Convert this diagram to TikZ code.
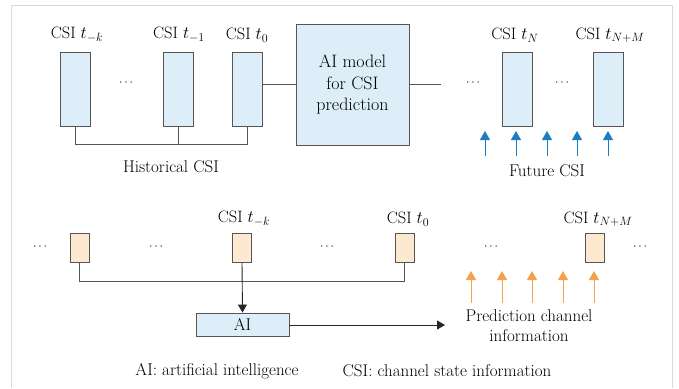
\documentclass[tikz,border=0pt]{standalone}
\usetikzlibrary{arrows.meta}
\definecolor{frame}{HTML}{D9D9D9}
\definecolor{bfill}{HTML}{DDEEF9}
\definecolor{ofill}{HTML}{FDE8D0}
\definecolor{edge}{HTML}{555555}
\definecolor{barrow}{HTML}{1C7EC2}
\definecolor{oarrow}{HTML}{F2891E}
\begin{document}
\begin{tikzpicture}[x=1pt,y=-1pt,
  txt/.style={font=\fontsize{17}{20}\selectfont, inner sep=0pt, text=black},
  lbl/.style={font=\fontsize{16.5}{20}\selectfont, inner sep=0pt, text=black},
  dots/.style={font=\fontsize{13}{16}\selectfont, inner sep=0pt, text=black},
  bbar/.style={draw=edge, fill=bfill, line width=0.9pt, minimum width=30pt, minimum height=74pt, inner sep=0pt},
  obar/.style={draw=edge, fill=ofill, line width=0.9pt, minimum width=19pt, minimum height=29pt, inner sep=0pt},
  conn/.style={draw=edge, line width=0.9pt},
  blk/.style={draw=black!85, line width=0.9pt, -{Triangle[width=9pt,length=8pt]}},
  bup/.style={draw=barrow, line width=1pt, -{Triangle[width=10pt,length=9pt]}},
  oup/.style={draw=oarrow!80, line width=1pt, -{Triangle[width=10pt,length=9pt]}}]
\useasboundingbox (0,0) rectangle (679,388);
\draw[frame, line width=1pt] (11,388) -- (11,5) -- (672,5) -- (672,388);

% ---------- top row ----------
\node[bbar] (r1) at (75,89) {};
\node[bbar] (r2) at (178,89) {};
\node[bbar] (r3) at (247,89) {};
\node[bbar] (r4) at (517,89) {};
\node[bbar] (r5) at (608,89) {};
\node[lbl] (l1) at (77,35) {CSI $t_{-k}$};
\node[lbl] (l2) at (179,35) {CSI $t_{-1}$};
\node[lbl] (l3) at (247,35) {CSI $t_{0}$};
\node[lbl] (l4) at (515,35) {CSI $t_{N}$};
\node[lbl] (l5) at (610,35) {CSI $t_{N+M}$};
\node[dots] (d1) at (126,83) {$\cdots$};
\node[dots] (d2) at (473,83) {$\cdots$};
\node[dots] (d3) at (562,83) {$\cdots$};
\node[draw=edge, fill=bfill, line width=0.9pt, minimum width=113pt, minimum height=121pt, inner sep=0pt,
      txt, align=center, font=\fontsize{18}{21.5}\selectfont] (ai1) at (352.5,84.5) {AI model\\for CSI\\prediction};
\coordinate (e1) at (441,84);
\draw[conn] (r3.east |- 0,84) -- (ai1.west |- 0,84);
\draw[conn] (ai1.east |- 0,84) -- (e1);
\coordinate (h) at (0,144);
\draw[conn] (r1.south) -- (r1.south |- h) -- (r3.south |- h) -- (r3.south);
\draw[conn] (r2.south) -- (r2.south |- h);
\node[txt] (hist) at (171,167) {Historical CSI};
\foreach \x [count=\i] in {485,516,547,577,608}{
  \coordinate (bf\i) at (\x,156);
  \coordinate (bt\i) at (\x,131);
  \draw[bup] (bf\i) -- (bt\i);
}
\node[txt] (fut) at (547,171) {Future CSI};

% ---------- bottom row ----------
\node[obar] (o1) at (79.5,247.5) {};
\node[obar] (o2) at (242,247.5) {};
\node[obar] (o3) at (404.5,247.5) {};
\node[obar] (o4) at (594.5,247.5) {};
\node[lbl] (m2) at (244,219) {CSI $t_{-k}$};
\node[lbl] (m3) at (408,219) {CSI $t_{0}$};
\node[lbl] (m4) at (598,219) {CSI $t_{N+M}$};
\node[dots] (f1) at (40,247) {$\cdots$};
\node[dots] (f2) at (156,247) {$\cdots$};
\node[dots] (f3) at (327,247) {$\cdots$};
\node[dots] (f4) at (491,247) {$\cdots$};
\node[dots] (f5) at (640,247) {$\cdots$};
\coordinate (hb) at (0,281);
\draw[conn] (o1.south) -- (o1.south |- hb) -- (o3.south |- hb) -- (o3.south);
\node[draw=edge, fill=bfill, line width=0.9pt, minimum width=93pt, minimum height=23pt, inner sep=0pt, txt] (ai2) at (242.5,324.5) {AI};
\draw[blk] (o2.south) -- (ai2.north);
\coordinate (e2) at (445,325);
\draw[blk] (ai2.east |- 0,325) -- (e2);
\foreach \x [count=\i] in {471,502,532,563,594}{
  \coordinate (of\i) at (\x,303);
  \coordinate (ot\i) at (\x,271);
  \draw[oup] (of\i) -- (ot\i);
}
\node[txt, align=center] (pred) at (529,326) {Prediction channel\\information};
\node[txt] (ab1) at (217,371) {AI: artificial intelligence};
\node[txt] (ab2) at (447,371) {CSI: channel state information};
\end{tikzpicture}
\end{document}
